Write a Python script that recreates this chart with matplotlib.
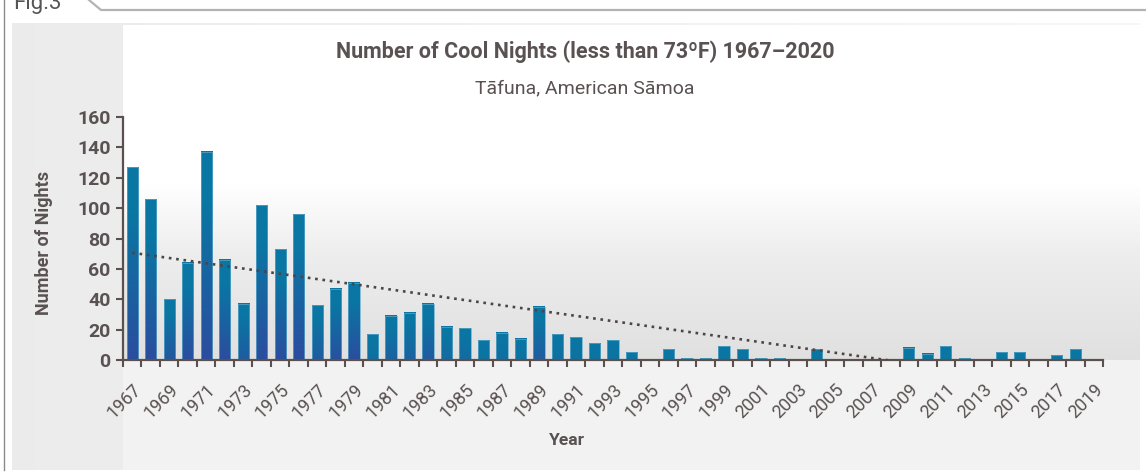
import numpy as np
import matplotlib
matplotlib.use('Agg')
import matplotlib.pyplot as plt
from matplotlib.colors import to_rgb

plt.rcParams['font.family'] = ['Roboto', 'DejaVu Sans']

# 数据：每年的凉夜数
years = list(range(1967, 2020))
nights = [127, 106, 40, 64, 137, 66, 37, 102, 73, 96,
          36, 47, 51, 17, 29, 31, 37, 22, 21, 13,
          18, 14, 35, 17, 15, 11, 13, 5, 0, 7,
          1, 1, 9, 7, 1, 1, 0, 7, 0, 0,
          0, 0, 8, 4, 9, 1, 0, 5, 5, 0,
          3, 7, 0]
year_labels = [str(y) for y in years[::2]]

title = 'Number of Cool Nights (less than 73ºF) 1967–2020'
subtitle = 'Tāfuna, American Sāmoa'

TXT = '#5a5252'
TEAL = np.array(to_rgb('#0a76a3'))
BLUE = np.array(to_rgb('#2b4d9f'))
W, H = 1146, 476

fig = plt.figure(figsize=(W / 100, H / 100), dpi=100)
fig.patch.set_facecolor('white')

# 背景层（像素坐标）
bg = fig.add_axes([0, 0, 1, 1], zorder=-1)
bg.set_xlim(0, W)
bg.set_ylim(H, 0)
bg.axis('off')

# 整个面板：浅灰
panel = np.linspace(0, 1, 64)
pgrad = (0.925 + 0.04 * panel)[None, :, None] * np.ones((2, 64, 3))
bg.imshow(pgrad, extent=(12, 1140, 470, 23), aspect='auto', interpolation='bilinear')

# 绘图区上部：白到灰的渐变
ys = np.linspace(25, 360, 200)
g = np.where(ys < 185, 1.0,
             np.where(ys < 255, 1.0 - (ys - 185) / 70 * 0.07,
                      0.93 - (ys - 255) / 105 * 0.05))
up = g[:, None, None] * np.ones((200, 2, 3))
bg.imshow(up, extent=(123, 1140, 360, 25), aspect='auto', interpolation='bilinear')
# 绘图区下部
bg.add_patch(plt.Rectangle((123, 360), 1017, 110, color='#f3f2f2', lw=0))

# 边框与标签
bg.plot([3.5, 3.5], [0, 470], color='#8a8a8a', lw=1)
bg.plot([89, 101, W], [0, 10, 10], color='#b3b3b3', lw=1.6)
bg.text(13, 9.5, 'Fig.3', fontsize=16, color='#555555', va='baseline', ha='left')

fig.text(585 / W, 1 - 52 / H, title, fontsize=15.5, fontweight='bold', color=TXT,
         ha='center', va='center')
fig.text(585 / W, 1 - 88 / H, subtitle, fontsize=14, color=TXT,
         ha='center', va='center')

# 主坐标轴
ax = fig.add_axes([123 / W, 116 / H, 980 / W, 243 / H])
ax.patch.set_alpha(0)
idx = np.arange(len(years))
vals = np.array(nights, dtype=float)
bw = 0.61

for i, h in zip(idx, vals):
    if h <= 0:
        continue
    s = np.clip((h - 10) / 40, 0, 1)
    f = np.linspace(0, 1, 100)  # 0=顶部
    t = s * np.clip((f - 0.25) / 0.75, 0, 1)
    cols = TEAL[None, :] * (1 - t[:, None]) + BLUE[None, :] * t[:, None]
    ax.imshow(cols[:, None, :], extent=(i - bw / 2, i + bw / 2, 0, h),
              aspect='auto', interpolation='bilinear', zorder=2)
ax.bar(idx, vals, width=bw, fill=False, edgecolor='#5fa9c9', lw=0.5, zorder=2.5)

# 趋势线
coef = np.polyfit(idx, vals, 1)
ax.plot(idx, np.polyval(coef, idx), color='#4d4545', lw=1.9,
        linestyle=(0, (1, 1.8)), zorder=3)

ax.set_xlim(-0.5, len(years) - 0.5)
ax.set_ylim(0, 160)
for sp in ['top', 'right']:
    ax.spines[sp].set_visible(False)
for sp in ['left', 'bottom']:
    ax.spines[sp].set_color('#5a5050')
    ax.spines[sp].set_linewidth(1.6)

ax.set_yticks(range(0, 161, 20))
ax.tick_params(axis='y', length=5, width=1.5, color='#5a5050', labelsize=14,
               labelcolor=TXT, pad=4)
for lb in ax.get_yticklabels():
    lb.set_fontweight('bold')

ax.set_xticks(np.arange(-0.5, len(years), 1))
ax.set_xticklabels([])
ax.tick_params(axis='x', which='major', length=5, width=1.5, color='#5a5050')
ax.set_xticks(idx[::2], minor=True)
ax.set_xticklabels(year_labels, minor=True, rotation=45, ha='right',
                   rotation_mode='anchor', fontsize=13, color=TXT)
ax.tick_params(axis='x', which='minor', length=0, pad=15)

ax.set_xlabel('Year', fontsize=12.5, fontweight='bold', color=TXT)
ax.xaxis.set_label_coords(0.453, -0.30)
ax.set_ylabel('Number of Nights', fontsize=13, fontweight='bold', color=TXT)
ax.yaxis.set_label_coords(-0.0714, 0.481)

fig.savefig('out.png', dpi=100)
